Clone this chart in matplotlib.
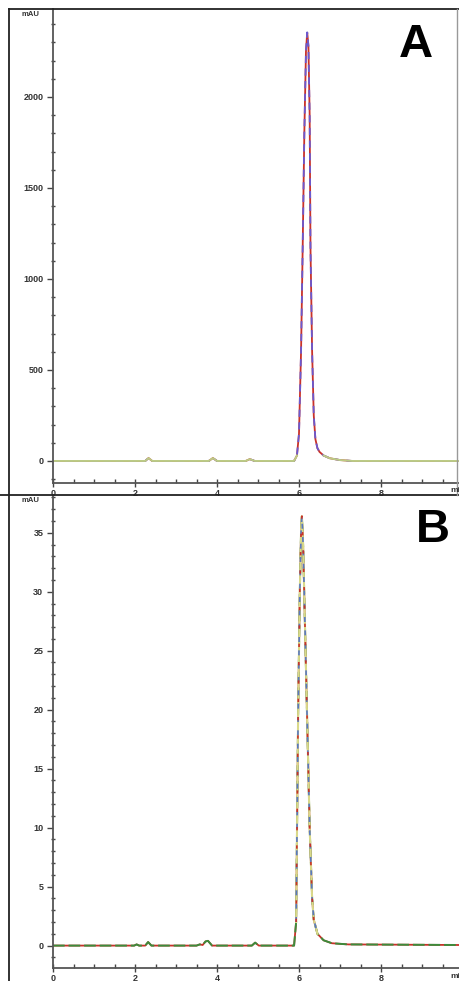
import numpy as np
import matplotlib
matplotlib.use("Agg")
import matplotlib.pyplot as plt
from matplotlib.lines import Line2D
from matplotlib.ticker import MultipleLocator

plt.rcParams['font.family'] = ['Liberation Sans', 'DejaVu Sans']

# panel A: time (min) and signal (mAU)
time_a = [0.0, 2.25, 2.33, 2.42, 3.8, 3.9, 4.0, 4.7, 4.8, 4.92,
          5.88, 5.95, 6.0, 6.05, 6.09, 6.13, 6.17, 6.2, 6.23, 6.26,
          6.28, 6.32, 6.36, 6.4, 6.45, 6.5, 6.6, 6.75, 7.0, 7.3, 9.9]
sig_a = [0, 0, 16, 0, 0, 16, 0, 0, 10, 0,
         0, 30, 150, 600, 1176, 1800, 2250, 2355, 2280, 1900,
         1176, 600, 250, 120, 70, 50, 30, 15, 5, 0, 0]

# panel B
time_b = [0.0, 1.98, 2.04, 2.1, 2.25, 2.32, 2.4, 3.5, 3.58, 3.65, 3.72, 3.78, 3.88,
          4.85, 4.93, 5.02, 5.88, 5.93, 5.98, 6.02, 6.05, 6.07, 6.1, 6.14,
          6.2, 6.26, 6.32, 6.36, 6.45, 6.6, 6.8, 7.2, 9.9]
sig_b = [0, 0, 0.1, 0, 0, 0.3, 0, 0, 0.1, 0.05, 0.35, 0.4, 0,
         0, 0.25, 0, 0, 2, 20, 30, 35, 36.4, 34, 28,
         19, 10, 4, 2.2, 1, 0.45, 0.2, 0.1, 0.05]

x_ticks = [0, 2, 4, 6, 8]
y_ticks_a = [0, 500, 1000, 1500, 2000]
y_ticks_b = [0, 5, 10, 15, 20, 25, 30, 35]

W, H = 459, 981
fig = plt.figure(figsize=(W / 100, H / 100), dpi=100)
fig.patch.set_facecolor('white')


def px(x0, y0, x1, y1):
    # pixel box -> figure fraction [left, bottom, width, height]
    return [x0 / W, 1 - y1 / H, (x1 - x0) / W, (y1 - y0) / H]


def style(ax, xmax, ylim, yticks, yminor):
    ax.set_xlim(0, xmax)
    ax.set_ylim(*ylim)
    for s in ['top', 'right']:
        ax.spines[s].set_visible(False)
    for s in ['left', 'bottom']:
        ax.spines[s].set_color('#555555')
        ax.spines[s].set_linewidth(1.3)
    ax.set_xticks(x_ticks)
    ax.set_yticks(yticks)
    ax.xaxis.set_minor_locator(MultipleLocator(0.5))
    ax.yaxis.set_minor_locator(MultipleLocator(yminor))
    ax.tick_params(axis='x', which='major', direction='inout', length=6, width=1,
                   color='#444444', labelsize=6.5, labelcolor='#333333', pad=1)
    ax.tick_params(axis='x', which='minor', direction='in', length=3, width=1,
                   color='#444444')
    ax.tick_params(axis='y', which='major', direction='out', length=4, width=1,
                   color='#444444', labelsize=6.5, labelcolor='#333333', pad=3)
    ax.tick_params(axis='y', which='minor', direction='inout', length=3, width=1,
                   color='#444444')
    for lab in ax.get_xticklabels() + ax.get_yticklabels():
        lab.set_fontweight('bold')
    ax.set_facecolor('none')


xmax = (W - 53) / 41.0

# ---- panel A
axA = fig.add_axes(px(53, 9, W, 483))
ta = np.array(time_a)
sa = np.array(sig_a, dtype=float)
axA.plot(ta, sa, color='#c8322a', lw=1.3, solid_joinstyle='miter')
axA.plot(ta, sa, color='#6a5ad0', lw=1.3, dashes=(4, 3))
base_a = np.where(sa < 40, sa, np.nan)
axA.plot(ta, base_a, color='#bccb85', lw=1.4)
style(axA, xmax, (-121, 2483), y_ticks_a, 100)
axA.text(0.895, 0.925, 'A', transform=axA.transAxes, fontsize=34,
         fontweight='bold', ha='center', va='center', color='black')

# ---- panel B
axB = fig.add_axes(px(53, 495, W, 968))
tb = np.array(time_b)
sb = np.array(sig_b, dtype=float)
axB.plot(tb, sb, color='#c8322a', lw=1.3)
axB.plot(tb, sb, color='#3c8c3c', lw=1.4, dashes=(6, 2))
peak_b = np.where(sb > 0.6, sb, np.nan)
axB.plot(tb, peak_b, color='#d9d98a', lw=1.5)
axB.plot(tb, peak_b, color='#5a78c0', lw=1.2, dashes=(3, 5))
axB.plot(tb, peak_b, color='#c8322a', lw=1.2, dashes=(2, 9))
style(axB, xmax, (-1.9, 38.2), y_ticks_b, 1)
axB.text(0.935, 0.925, 'B', transform=axB.transAxes, fontsize=34,
         fontweight='bold', ha='center', va='center', color='black')

# unit labels
for y in [14, 501]:
    fig.text(30 / W, 1 - y / H, 'mAU', fontsize=5.5, fontweight='bold',
             color='#333333', ha='center', va='center')
for y in [491, 977]:
    fig.text(450 / W, 1 - y / H, 'mi', fontsize=6, fontweight='bold',
             color='#333333', ha='left', va='center')

# outer frame lines
frame = dict(color='#222222', lw=1.3, transform=fig.transFigure)
fig.add_artist(Line2D([9 / W, 1], [1 - 9 / H, 1 - 9 / H], **frame))
fig.add_artist(Line2D([0, 1], [1 - 495 / H, 1 - 495 / H], **frame))
fig.add_artist(Line2D([9 / W, 9 / W], [0, 1 - 9 / H], **frame))
fig.add_artist(Line2D([457 / W, 457 / W], [1 - 495 / H, 1 - 9 / H],
                      color='#999999', lw=1, transform=fig.transFigure))

fig.savefig('out.png', dpi=100)
